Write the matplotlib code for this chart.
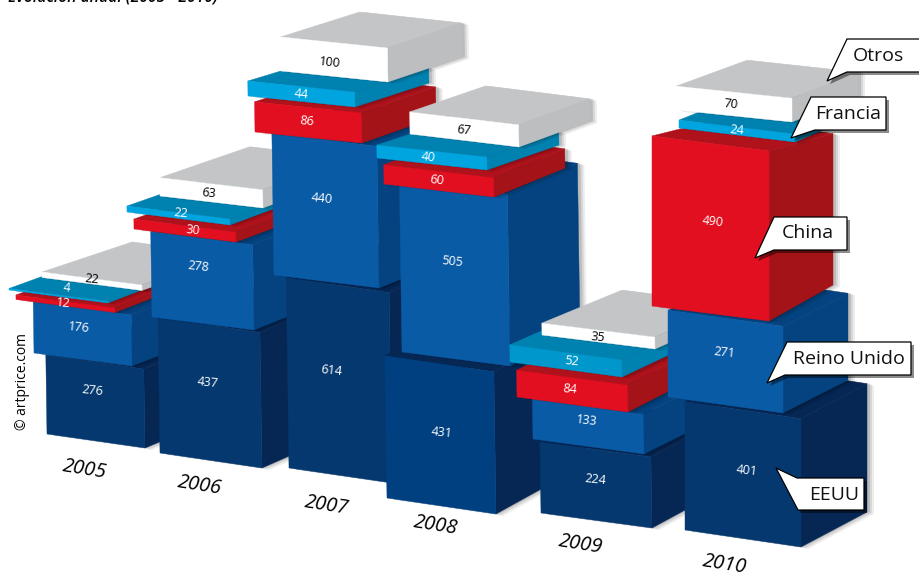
import matplotlib
matplotlib.use('Agg')
import matplotlib.pyplot as plt
from matplotlib.patches import Polygon

plt.rcParams['font.family'] = ['Open Sans', 'DejaVu Sans']

years = ['2005', '2006', '2007', '2008', '2009', '2010']
countries = ['EEUU', 'Reino Unido', 'China', 'Francia', 'Otros']

eeuu = [276, 437, 614, 431, 224, 401]
reino_unido = [176, 278, 440, 505, 133, 271]
china = [12, 30, 86, 60, 84, 490]
francia = [4, 22, 44, 40, 52, 24]
otros = [22, 63, 100, 67, 35, 70]
values = [eeuu, reino_unido, china, francia, otros]

# the picture has no real axis, each block sits by eye: one row per year, one entry per country
left = [[47, 34, 16, 9, 42], [160, 152, 134, 127, 160], [289, 274, 255, 248, 281],
        [387, 402, 384, 377, 410], [541, 533, 517, 510, 542], [685, 668, 652, 679, 676]]
bottom = [[434, 353, 299.5, 290, 277.5], [453, 317, 229, 212, 196], [468, 275, 132, 96, 71],
          [498, 352, 184, 158, 134], [513, 439, 397, 362, 335], [530, 397, 306, 128, 110]]
width = [[98, 98, 99, 99, 100], [102, 102, 102, 103, 103], [103, 105, 107, 107, 107],
         [109, 108, 110, 110, 109], [111, 111, 111, 112, 113], [116, 115, 117, 116, 116]]
drop = [[14, 13, 13, 13, 13], [15, 13, 13, 13, 12], [15, 13, 11, 11, 11],
        [16, 14, 13, 12, 13], [15, 15, 15, 15, 14], [17, 16, 15, 14, 12]]
depth = [[(72, -30), (75, -29), (75, -29), (75, -29), (85, -30)],
         [(75, -33), (75, -30), (75, -28), (75, -28), (85, -31)],
         [(75, -35), (75, -30), (74, -26), (74, -24), (74, -25)],
         [(85, -47), (70, -31), (71, -29), (72, -25), (71, -26)],
         [(70, -38), (70, -35), (70, -36), (70, -33), (75, -33)],
         [(66, -35), (65, -33), (64, -36), (70, -30), (66, -26)]]
# pixels per unit of value
scale = [[.286, .29, .375, .375, .25], [.31, .306, .33, .27, .29], [.31, .322, .35, .34, .34],
         [.33, .34, .32, .325, .33], [.317, .30, .32, .33, .34], [.32, .32, .347, .33, .34]]
label_xy = [[(92, 391), (79, 328), (63, 303), (67, 288), (92, 279)],
            [(208, 383), (198, 267), (193, 230), (181, 213), (209, 193)],
            [(331, 371), (322, 199), (307, 121), (301, 94), (330, 63)],
            [(442, 433), (452, 262), (437, 180), (428, 157), (464, 130)],
            [(595, 480), (587, 421), (570, 389), (572, 361), (598, 337)],
            [(747, 471), (724, 353), (713, 222), (737, 130), (731, 104)]]
year_xy = [(85, 470), (200, 486), (327, 506), (436, 526), (581, 545), (725, 565)]

front_col = ['#04386f', '#0a5ba6', '#e10f1f', '#00a5df', '#ffffff']
side_col = ['#062654', '#04437f', '#a31318', '#0082b0', '#bcbec0']
top_col = ['#062654', '#04437f', '#b0121c', '#0082b0', '#c4c5c7']

# callouts: text, outline, text centre
callouts = [
    ('Otros', [(847, 39), (925, 39), (925, 72), (847, 72), (827, 81)], (878, 56)),
    ('Francia', [(811, 97), (886, 97), (886, 130), (815, 130), (791, 138)], (848, 114)),
    ('China', [(774, 217), (847, 217), (847, 250), (774, 250), (755, 258)], (808, 233)),
    ('Reino Unido', [(787, 342), (911, 342), (911, 375), (785, 375), (767, 383)], (849, 359)),
    ('EEUU', [(797, 478), (864, 478), (864, 510), (798, 510), (776, 468)], (834, 495)),
]

fig = plt.figure(figsize=(9.2, 5.77), dpi=100)
ax = fig.add_axes([0, 0, 1, 1])
ax.set_xlim(0, 920)
ax.set_ylim(577, 0)
ax.axis('off')


def draw_block(i, j):
    x = left[i][j]
    yb = bottom[i][j]
    w = width[i][j]
    d = drop[i][j]
    dx, dy = depth[i][j]
    h = values[j][i] * scale[i][j]
    lean = 0.015 * h if i < 5 else 0
    # tall blocks get shorter towards the back
    back = 0.89 if (i == 5 and j == 2) else 1

    f1 = (x, yb)
    f2 = (x + w, yb + d)
    f3 = (x + w - lean, yb + d - h)
    f4 = (x - lean, yb - h)
    b2 = (f2[0] + dx, f2[1] + dy)
    b3 = (f2[0] + dx - lean, f2[1] + dy - h * back)
    b4 = (f4[0] + dx + 5, b3[1] - d)

    outline = [f1, f2, b2, b3, b4, f4]
    for off, a in [((7, 2), .07), ((5, 1), .09), ((3, 0), .12)]:
        ax.add_patch(Polygon([(px + off[0], py + off[1]) for px, py in outline],
                             fc='black', ec='none', alpha=a))

    fc = front_col[j]
    if i == 3 and j == 0:
        fc = '#004080'
    if i == 4 and j == 3:
        fc = '#0098cc'
    ax.add_patch(Polygon([f4, f3, b3, b4], fc=top_col[j], ec=top_col[j], lw=.3))
    ax.add_patch(Polygon([f2, b2, b3, f3], fc=side_col[j], ec=side_col[j], lw=.3))
    ax.add_patch(Polygon([f1, f2, f3, f4], fc=fc, ec=fc, lw=.3))


for i in range(len(years)):
    for j in range(len(countries)):
        draw_block(i, j)

for i in range(len(years)):
    for j in range(len(countries)):
        lx, ly = label_xy[i][j]
        dark = j == 4
        ax.text(lx, ly, str(values[j][i]), color='black' if dark else 'white',
                fontsize=9, fontweight='medium', ha='center', va='center',
                rotation=-6, zorder=5)
    ax.text(year_xy[i][0], year_xy[i][1], years[i], fontsize=14.5, style='italic',
            ha='center', va='center', rotation=-9, color='black')

for name, pts, (tx, ty) in callouts:
    ax.add_patch(Polygon([(px + 3, py + 3) for px, py in pts], fc='black', ec='none',
                         alpha=.45, zorder=6))
    ax.add_patch(Polygon(pts, fc='white', ec='black', lw=.9, zorder=7))
    ax.text(tx, ty, name, fontsize=14, ha='center', va='center', zorder=8, color='#111111')

ax.text(23, 381, '© artprice.com', fontsize=10, rotation=90, ha='center', va='center')
ax.text(8, 2, 'Evolución anual (2005 - 2010)', fontsize=11.3, style='italic',
        fontweight='semibold', ha='left', va='baseline')

fig.savefig('out.png', dpi=100)
